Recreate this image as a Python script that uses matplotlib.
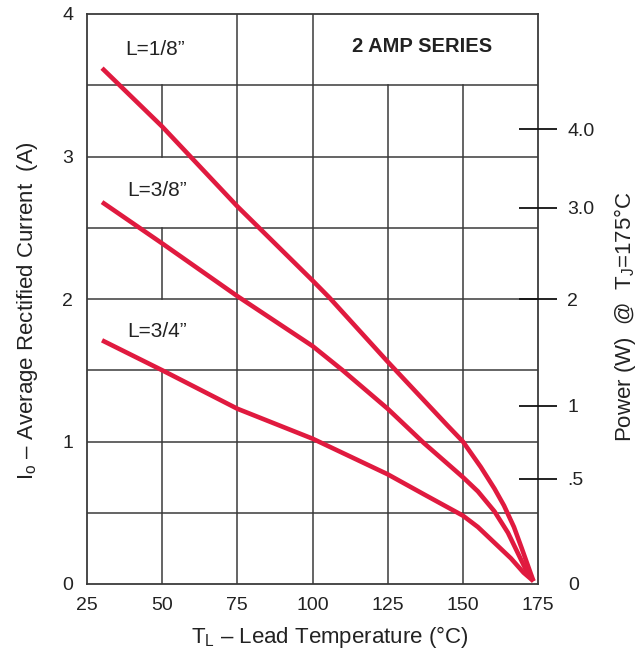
import matplotlib
matplotlib.use("Agg")
import matplotlib.pyplot as plt

plt.rcParams['font.family'] = ['Liberation Sans', 'DejaVu Sans']
plt.rcParams['mathtext.fontset'] = 'custom'
plt.rcParams['mathtext.rm'] = 'Liberation Sans'
plt.rcParams['mathtext.it'] = 'Liberation Sans:italic'

# ---- data ----
temp_18 = [30, 50, 75, 100, 105.6, 125, 137, 145, 150, 156, 160.5, 163.7, 167, 169.6, 172.3, 173.5]
curr_18 = [3.62, 3.21, 2.65, 2.13, 2.01, 1.56, 1.29, 1.11, 1.00, 0.82, 0.67, 0.55, 0.40, 0.25, 0.09, 0.02]

temp_38 = [30, 50, 75, 100, 110, 125, 137, 150, 155, 160.5, 165, 168, 171.2, 173.5]
curr_38 = [2.68, 2.39, 2.02, 1.67, 1.50, 1.23, 0.99, 0.75, 0.65, 0.51, 0.36, 0.23, 0.09, 0.02]

temp_34 = [30, 50, 75, 100, 125, 137, 150, 155, 160.5, 166, 170.2, 173.5]
curr_34 = [1.71, 1.50, 1.23, 1.02, 0.77, 0.63, 0.48, 0.40, 0.29, 0.18, 0.08, 0.02]

series_labels = ['L=1/8\u201d', 'L=3/8\u201d', 'L=3/4\u201d']
x_ticks = [25, 50, 75, 100, 125, 150, 175]
y_ticks = [0, 1, 2, 3, 4]
power_tick_pos = [3.19, 2.64, 2.0, 1.25, 0.74]
power_tick_labels = ['4.0', '3.0', '2', '1', '.5']

fig = plt.figure(figsize=(6.43, 6.56), dpi=100)
ax = fig.add_axes([87/643, 1-584/656, (538-87)/643, (584-14)/656])
ax.set_xlim(25, 175)
ax.set_ylim(0, 4)

gc = '#3a3a3a'
glw = 1.1
# horizontal grid lines
for yv in [0.5, 1.0, 1.5, 2.0, 2.5, 3.0, 3.5]:
    ax.plot([25, 175], [yv, yv], color=gc, lw=glw, zorder=1)
# vertical grid lines (partial, like the reference)
vsegs = {
    50: [(0, 1.5), (2.0, 2.5), (3.0, 3.5)],
    75: [(0, 4)],
    100: [(0, 4)],
    125: [(0, 3.5)],
    150: [(0, 3.5)],
}
for xv, segs in vsegs.items():
    for y0, y1 in segs:
        ax.plot([xv, xv], [y0, y1], color=gc, lw=glw, zorder=1)

for s in ax.spines.values():
    s.set_color(gc)
    s.set_linewidth(1.3)

red = '#E01A3F'
for xs, ys in [(temp_18, curr_18), (temp_38, curr_38), (temp_34, curr_34)]:
    ax.plot(xs, ys, color=red, lw=3.3, solid_capstyle='butt', solid_joinstyle='round', zorder=3)

ax.set_xticks(x_ticks)
ax.set_xticklabels([str(v) for v in x_ticks])
ax.set_yticks(y_ticks)
ax.set_yticklabels([str(v) for v in y_ticks])
ax.tick_params(axis='both', length=0, labelsize=14, colors='#222222')
ax.tick_params(axis='x', pad=9)
ax.tick_params(axis='y', pad=10)

# in-plot labels
ax.text(47.6, 3.75, series_labels[0], fontsize=15, ha='center', va='center', color='#222222')
ax.text(48.3, 2.76, series_labels[1], fontsize=15, ha='center', va='center', color='#222222')
ax.text(48.3, 1.77, series_labels[2], fontsize=15, ha='center', va='center', color='#222222')
ax.text(136.5, 3.77, '2 AMP SERIES', fontsize=14.5, fontweight='bold', ha='center', va='center', color='#222222')

# right-hand power axis
ax2 = ax.twinx()
ax2.set_ylim(0, 4)
ax2.set_yticks(power_tick_pos)
ax2.set_yticklabels(power_tick_labels)
ax2.set_yticks([0], minor=True)
ax2.set_yticklabels(['0'], minor=True)
ax2.tick_params(axis='y', which='major', direction='inout', length=28, width=1.3,
                color='#111111', labelsize=14, pad=7, labelcolor='#222222')
ax2.tick_params(axis='y', which='minor', length=0, labelsize=14, pad=22, labelcolor='#222222')
for s in ax2.spines.values():
    s.set_visible(False)

fig.text(0.0435, 0.526, r'I$_{\mathrm{o}}$' + ' \u2013 Average Rectified Current  (A)',
         rotation=90, ha='center', va='center', fontsize=16, color='#222222')
fig.text(0.513, 0.029, r'T$_{\mathrm{L}}$' + ' \u2013 Lead Temperature (\u00b0C)',
         ha='center', va='center', fontsize=16, color='#222222')
fig.text(0.972, 0.518, r'Power (W)  @  T$_{\mathrm{J}}$=175' + '\u00b0C',
         rotation=90, ha='center', va='center', fontsize=16, color='#222222')

fig.savefig('out.png', dpi=100)
